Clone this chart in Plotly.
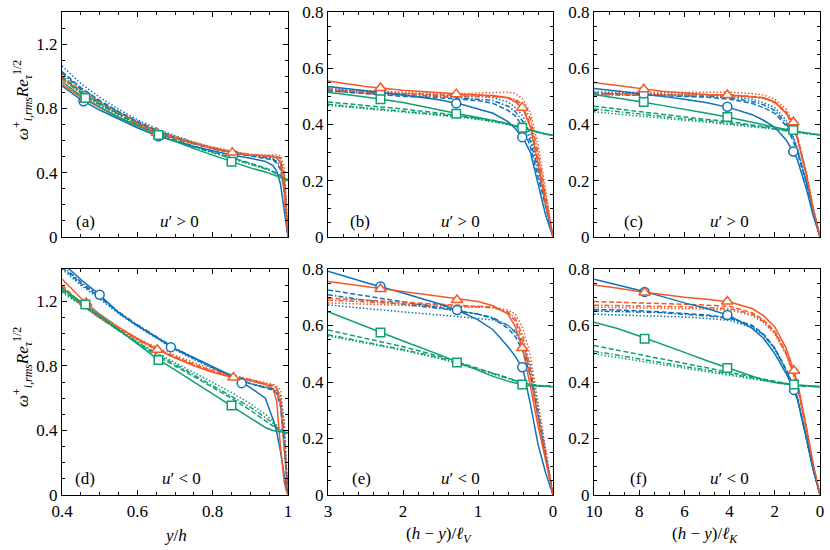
import plotly.graph_objects as go

BLUE = "#0C72BA"
ORANGE = "#F05A28"
GREEN = "#0E9F73"

# ---------------- x grids ----------------
XA = [0.4, 0.45, 0.5, 0.55, 0.6, 0.65, 0.7, 0.75, 0.8, 0.85, 0.9, 0.94, 0.96, 0.97, 0.98, 0.99, 0.995, 1.0]
XB = [3, 2.5, 2, 1.5, 1.2, 1.0, 0.8, 0.6, 0.5, 0.4, 0.3, 0.2, 0.1, 0]
XC = [10, 9, 8, 7, 6, 5, 4, 3, 2.5, 2, 1.5, 1.2, 1.0, 0.6, 0.3, 0]

# each list: [solid, dashed, dashdot, dotted]
# ---------------- panel (a) ----------------
A_BLUE = [
    [0.94, 0.855, 0.79, 0.735, 0.68, 0.632, 0.595, 0.563, 0.535, 0.51, 0.49, 0.47, 0.445, 0.41, 0.33, 0.17, 0.08, 0.0],
    [1.03, 0.93, 0.85, 0.78, 0.72, 0.665, 0.62, 0.58, 0.55, 0.525, 0.505, 0.49, 0.48, 0.46, 0.42, 0.28, 0.14, 0.0],
    [1.02, 0.92, 0.84, 0.775, 0.715, 0.66, 0.615, 0.58, 0.55, 0.525, 0.505, 0.495, 0.485, 0.47, 0.44, 0.32, 0.17, 0.0],
    [1.065, 0.955, 0.87, 0.795, 0.73, 0.675, 0.63, 0.59, 0.555, 0.53, 0.51, 0.50, 0.495, 0.49, 0.47, 0.38, 0.22, 0.0],
]
A_ORANGE = [
    [0.95, 0.87, 0.805, 0.745, 0.695, 0.65, 0.612, 0.58, 0.55, 0.525, 0.51, 0.505, 0.50, 0.495, 0.46, 0.28, 0.13, 0.0],
    [0.99, 0.905, 0.835, 0.77, 0.71, 0.66, 0.62, 0.585, 0.555, 0.53, 0.51, 0.505, 0.50, 0.50, 0.49, 0.36, 0.18, 0.0],
    [0.98, 0.895, 0.825, 0.765, 0.71, 0.66, 0.62, 0.585, 0.555, 0.53, 0.51, 0.505, 0.505, 0.50, 0.49, 0.38, 0.20, 0.0],
    [1.0, 0.915, 0.84, 0.775, 0.715, 0.665, 0.625, 0.59, 0.56, 0.535, 0.515, 0.51, 0.51, 0.51, 0.505, 0.44, 0.26, 0.0],
]
A_GREEN = [
    [0.965, 0.88, 0.81, 0.745, 0.69, 0.64, 0.595, 0.55, 0.51, 0.468, 0.43, 0.405, 0.39, 0.38, 0.37, 0.36, 0.355, 0.35],
    [1.0, 0.905, 0.83, 0.765, 0.705, 0.65, 0.605, 0.565, 0.53, 0.495, 0.46, 0.43, 0.41, 0.395, 0.38, 0.365, 0.36, 0.355],
    [0.99, 0.90, 0.825, 0.76, 0.70, 0.645, 0.60, 0.56, 0.525, 0.49, 0.455, 0.425, 0.405, 0.39, 0.375, 0.365, 0.36, 0.355],
    [0.985, 0.895, 0.82, 0.755, 0.695, 0.645, 0.60, 0.56, 0.525, 0.49, 0.455, 0.425, 0.405, 0.39, 0.375, 0.365, 0.36, 0.355],
]
A_MK_BLUE = ([0.457, 0.656, 0.855], [0.845, 0.626, 0.51])
A_MK_ORANGE = ([0.462, 0.652, 0.852], [0.855, 0.648, 0.525])
A_MK_GREEN = ([0.462, 0.656, 0.85], [0.865, 0.635, 0.468])

# ---------------- panel (b) ----------------
B_BLUE = [
    [0.535, 0.52, 0.505, 0.487, 0.47, 0.455, 0.44, 0.41, 0.385, 0.352, 0.30, 0.19, 0.08, 0.0],
    [0.52, 0.51, 0.50, 0.495, 0.49, 0.485, 0.475, 0.45, 0.43, 0.39, 0.32, 0.22, 0.11, 0.0],
    [0.525, 0.515, 0.505, 0.50, 0.495, 0.49, 0.485, 0.465, 0.445, 0.41, 0.34, 0.24, 0.12, 0.0],
    [0.53, 0.52, 0.51, 0.505, 0.50, 0.50, 0.495, 0.48, 0.46, 0.43, 0.36, 0.25, 0.13, 0.0],
]
B_ORANGE = [
    [0.555, 0.535, 0.522, 0.512, 0.508, 0.505, 0.503, 0.495, 0.48, 0.455, 0.39, 0.26, 0.12, 0.0],
    [0.525, 0.515, 0.51, 0.505, 0.505, 0.505, 0.50, 0.495, 0.485, 0.46, 0.40, 0.28, 0.14, 0.0],
    [0.52, 0.51, 0.505, 0.50, 0.50, 0.50, 0.50, 0.495, 0.49, 0.47, 0.42, 0.30, 0.15, 0.0],
    [0.53, 0.52, 0.515, 0.51, 0.51, 0.512, 0.515, 0.515, 0.51, 0.49, 0.44, 0.33, 0.17, 0.0],
]
B_GREEN = [
    [0.515, 0.498, 0.478, 0.45, 0.435, 0.425, 0.415, 0.403, 0.395, 0.388, 0.38, 0.372, 0.366, 0.362],
    [0.48, 0.468, 0.455, 0.44, 0.43, 0.423, 0.415, 0.403, 0.395, 0.388, 0.38, 0.372, 0.366, 0.362],
    [0.472, 0.46, 0.448, 0.435, 0.427, 0.42, 0.412, 0.401, 0.394, 0.387, 0.38, 0.372, 0.366, 0.362],
    [0.468, 0.456, 0.445, 0.433, 0.425, 0.418, 0.41, 0.40, 0.393, 0.387, 0.38, 0.372, 0.366, 0.362],
]
B_MK_BLUE = ([2.3, 1.29, 0.41], [0.51, 0.475, 0.355])
B_MK_ORANGE = ([2.3, 1.29, 0.41], [0.53, 0.508, 0.46])
B_MK_GREEN = ([2.3, 1.29, 0.41], [0.49, 0.438, 0.388])

# ---------------- panel (c) ----------------
C_BLUE = [
    [0.528, 0.52, 0.51, 0.50, 0.49, 0.477, 0.46, 0.435, 0.415, 0.39, 0.345, 0.305, 0.275, 0.17, 0.075, 0.0],
    [0.51, 0.508, 0.505, 0.502, 0.50, 0.497, 0.49, 0.475, 0.46, 0.44, 0.395, 0.345, 0.30, 0.19, 0.09, 0.0],
    [0.512, 0.51, 0.508, 0.506, 0.504, 0.50, 0.495, 0.482, 0.47, 0.45, 0.405, 0.355, 0.31, 0.195, 0.09, 0.0],
    [0.515, 0.513, 0.512, 0.51, 0.508, 0.505, 0.50, 0.49, 0.478, 0.46, 0.415, 0.36, 0.315, 0.20, 0.09, 0.0],
]
C_ORANGE = [
    [0.549, 0.538, 0.527, 0.518, 0.512, 0.507, 0.505, 0.50, 0.495, 0.48, 0.44, 0.405, 0.35, 0.22, 0.10, 0.0],
    [0.51, 0.508, 0.506, 0.505, 0.505, 0.505, 0.505, 0.50, 0.495, 0.48, 0.445, 0.40, 0.355, 0.225, 0.10, 0.0],
    [0.505, 0.504, 0.503, 0.503, 0.503, 0.503, 0.503, 0.498, 0.493, 0.478, 0.44, 0.395, 0.35, 0.22, 0.10, 0.0],
    [0.515, 0.515, 0.515, 0.515, 0.515, 0.515, 0.515, 0.51, 0.505, 0.49, 0.455, 0.41, 0.36, 0.23, 0.105, 0.0],
]
C_GREEN = [
    [0.507, 0.495, 0.482, 0.468, 0.455, 0.44, 0.425, 0.407, 0.398, 0.39, 0.382, 0.378, 0.375, 0.37, 0.366, 0.364],
    [0.465, 0.455, 0.445, 0.435, 0.427, 0.418, 0.41, 0.398, 0.393, 0.388, 0.38, 0.376, 0.373, 0.369, 0.366, 0.364],
    [0.455, 0.446, 0.437, 0.428, 0.42, 0.413, 0.405, 0.395, 0.39, 0.385, 0.378, 0.374, 0.372, 0.368, 0.365, 0.363],
    [0.445, 0.437, 0.43, 0.422, 0.415, 0.408, 0.40, 0.392, 0.388, 0.383, 0.377, 0.373, 0.371, 0.367, 0.365, 0.363],
]
C_MK_BLUE = ([7.8, 4.1, 1.18], [0.508, 0.463, 0.304])
C_MK_ORANGE = ([7.8, 4.1, 1.18], [0.525, 0.505, 0.408])
C_MK_GREEN = ([7.8, 4.1, 1.18], [0.48, 0.427, 0.38])

# ---------------- panel (d) ----------------
D_BLUE = [
    [1.44, 1.335, 1.24, 1.13, 1.05, 0.975, 0.905, 0.85, 0.795, 0.74, 0.665, 0.60, 0.47, 0.39, 0.27, 0.12, 0.05, 0.0],
    [1.41, 1.31, 1.225, 1.13, 1.05, 0.975, 0.905, 0.845, 0.79, 0.735, 0.69, 0.665, 0.65, 0.63, 0.55, 0.30, 0.15, 0.0],
    [1.42, 1.32, 1.23, 1.135, 1.055, 0.98, 0.91, 0.85, 0.79, 0.735, 0.69, 0.665, 0.655, 0.64, 0.58, 0.36, 0.18, 0.0],
    [1.40, 1.30, 1.215, 1.125, 1.045, 0.97, 0.90, 0.84, 0.785, 0.73, 0.69, 0.67, 0.66, 0.65, 0.62, 0.45, 0.25, 0.0],
]
D_ORANGE = [
    [1.338, 1.22, 1.12, 1.04, 0.97, 0.905, 0.85, 0.80, 0.76, 0.73, 0.71, 0.685, 0.66, 0.58, 0.30, 0.08, 0.03, 0.0],
    [1.30, 1.19, 1.10, 1.03, 0.965, 0.905, 0.855, 0.81, 0.77, 0.74, 0.71, 0.69, 0.68, 0.66, 0.56, 0.30, 0.14, 0.0],
    [1.29, 1.185, 1.095, 1.025, 0.96, 0.90, 0.85, 0.805, 0.765, 0.735, 0.705, 0.685, 0.675, 0.665, 0.60, 0.35, 0.16, 0.0],
    [1.28, 1.18, 1.10, 1.03, 0.97, 0.915, 0.865, 0.82, 0.78, 0.745, 0.715, 0.695, 0.685, 0.675, 0.65, 0.45, 0.22, 0.0],
]
D_GREEN = [
    [1.282, 1.20, 1.113, 1.025, 0.936, 0.848, 0.775, 0.70, 0.627, 0.554, 0.475, 0.418, 0.40, 0.395, 0.39, 0.385, 0.385, 0.385],
    [1.27, 1.185, 1.10, 1.02, 0.94, 0.865, 0.80, 0.735, 0.665, 0.60, 0.525, 0.46, 0.43, 0.41, 0.395, 0.385, 0.385, 0.385],
    [1.265, 1.18, 1.10, 1.02, 0.945, 0.875, 0.81, 0.745, 0.68, 0.615, 0.545, 0.48, 0.445, 0.42, 0.40, 0.39, 0.385, 0.385],
    [1.255, 1.175, 1.095, 1.02, 0.95, 0.88, 0.82, 0.76, 0.70, 0.635, 0.565, 0.50, 0.46, 0.43, 0.405, 0.39, 0.385, 0.385],
]
D_MK_BLUE = ([0.5, 0.689, 0.877], [1.24, 0.916, 0.693])
D_MK_ORANGE = ([0.464, 0.653, 0.855], [1.19, 0.90, 0.728])
D_MK_GREEN = ([0.462, 0.656, 0.85], [1.18, 0.837, 0.554])

# ---------------- panel (e) ----------------
E_BLUE = [
    [0.792, 0.752, 0.715, 0.675, 0.645, 0.62, 0.585, 0.525, 0.49, 0.445, 0.32, 0.18, 0.08, 0.0],
    [0.726, 0.705, 0.685, 0.665, 0.65, 0.64, 0.625, 0.59, 0.56, 0.51, 0.42, 0.28, 0.14, 0.0],
    [0.709, 0.69, 0.675, 0.66, 0.648, 0.64, 0.628, 0.60, 0.575, 0.53, 0.44, 0.30, 0.15, 0.0],
    [0.673, 0.66, 0.648, 0.637, 0.63, 0.625, 0.62, 0.60, 0.58, 0.54, 0.46, 0.32, 0.16, 0.0],
]
E_ORANGE = [
    [0.756, 0.738, 0.72, 0.703, 0.692, 0.685, 0.67, 0.64, 0.595, 0.51, 0.383, 0.245, 0.125, 0.0],
    [0.697, 0.69, 0.683, 0.677, 0.673, 0.67, 0.665, 0.645, 0.615, 0.54, 0.42, 0.27, 0.13, 0.0],
    [0.69, 0.683, 0.677, 0.672, 0.668, 0.666, 0.663, 0.648, 0.625, 0.56, 0.44, 0.29, 0.14, 0.0],
    [0.68, 0.675, 0.67, 0.667, 0.665, 0.665, 0.665, 0.655, 0.64, 0.59, 0.49, 0.33, 0.17, 0.0],
]
E_GREEN = [
    [0.649, 0.596, 0.545, 0.495, 0.462, 0.44, 0.42, 0.403, 0.396, 0.39, 0.387, 0.385, 0.384, 0.383],
    [0.584, 0.555, 0.525, 0.49, 0.465, 0.45, 0.433, 0.415, 0.405, 0.398, 0.392, 0.388, 0.386, 0.385],
    [0.567, 0.542, 0.515, 0.485, 0.462, 0.447, 0.43, 0.413, 0.404, 0.397, 0.391, 0.387, 0.385, 0.384],
    [0.563, 0.538, 0.512, 0.482, 0.46, 0.445, 0.428, 0.412, 0.403, 0.396, 0.39, 0.387, 0.385, 0.384],
]
E_MK_BLUE = ([2.3, 1.28, 0.41], [0.738, 0.655, 0.452])
E_MK_ORANGE = ([2.3, 1.28, 0.41], [0.729, 0.69, 0.52])
E_MK_GREEN = ([2.3, 1.28, 0.41], [0.575, 0.469, 0.391])

# ---------------- panel (f) ----------------
F_BLUE = [
    [0.764, 0.745, 0.725, 0.703, 0.68, 0.66, 0.635, 0.59, 0.555, 0.50, 0.43, 0.38, 0.34, 0.20, 0.09, 0.0],
    [0.657, 0.655, 0.652, 0.648, 0.643, 0.637, 0.628, 0.60, 0.57, 0.52, 0.445, 0.39, 0.345, 0.205, 0.09, 0.0],
    [0.651, 0.65, 0.648, 0.645, 0.64, 0.634, 0.625, 0.598, 0.568, 0.518, 0.443, 0.388, 0.343, 0.204, 0.09, 0.0],
    [0.64, 0.638, 0.636, 0.634, 0.63, 0.625, 0.618, 0.593, 0.565, 0.515, 0.44, 0.386, 0.342, 0.203, 0.09, 0.0],
]
F_ORANGE = [
    [0.743, 0.733, 0.72, 0.71, 0.70, 0.693, 0.683, 0.66, 0.635, 0.595, 0.52, 0.45, 0.40, 0.24, 0.11, 0.0],
    [0.685, 0.683, 0.68, 0.678, 0.675, 0.672, 0.668, 0.645, 0.62, 0.58, 0.505, 0.44, 0.39, 0.235, 0.105, 0.0],
    [0.672, 0.671, 0.67, 0.668, 0.666, 0.663, 0.66, 0.64, 0.615, 0.575, 0.50, 0.435, 0.385, 0.23, 0.10, 0.0],
    [0.665, 0.664, 0.663, 0.662, 0.66, 0.658, 0.655, 0.635, 0.61, 0.57, 0.497, 0.432, 0.383, 0.23, 0.10, 0.0],
]
F_GREEN = [
    [0.612, 0.59, 0.563, 0.535, 0.505, 0.475, 0.447, 0.42, 0.407, 0.398, 0.392, 0.39, 0.389, 0.387, 0.385, 0.384],
    [0.529, 0.513, 0.497, 0.481, 0.466, 0.45, 0.435, 0.418, 0.41, 0.401, 0.394, 0.39, 0.388, 0.385, 0.384, 0.383],
    [0.509, 0.495, 0.482, 0.468, 0.455, 0.442, 0.428, 0.413, 0.406, 0.399, 0.392, 0.389, 0.387, 0.385, 0.384, 0.383],
    [0.50, 0.487, 0.474, 0.461, 0.448, 0.435, 0.422, 0.41, 0.403, 0.397, 0.391, 0.388, 0.386, 0.385, 0.384, 0.383],
]
F_MK_BLUE = ([7.76, 4.1, 1.15], [0.719, 0.637, 0.372])
F_MK_ORANGE = ([7.76, 4.1, 1.15], [0.717, 0.685, 0.44])
F_MK_GREEN = ([7.76, 4.1, 1.15], [0.553, 0.45, 0.391])

PANEL_LABELS = ["(a)", "(b)", "(c)", "(d)", "(e)", "(f)"]
COND_LABELS = ["<i>u</i>′ &gt; 0"] * 3 + ["<i>u</i>′ &lt; 0"] * 3
X_TITLES = ["<i>y</i>/<i>h</i>",
            "(<i>h</i> − <i>y</i>)/<i>ℓ</i><sub><i>V</i></sub>",
            "(<i>h</i> − <i>y</i>)/<i>ℓ</i><sub><i>K</i></sub>"]
Y_TITLE = "<i>ω</i><sup>+</sup><sub><i>i,rms</i></sub><i>Re</i><sub><i>τ</i></sub><sup>1/2</sup>"

# ---------------- figure ----------------
W, H = 830, 550
FONT = "'Liberation Serif', 'Times New Roman', 'DejaVu Serif', serif"
COLS = [(62, 288), (328, 553), (594, 820)]
ROWS = [(12, 237), (269, 495)]

panels = [
    (XA, A_BLUE, A_ORANGE, A_GREEN, A_MK_BLUE, A_MK_ORANGE, A_MK_GREEN),
    (XB, B_BLUE, B_ORANGE, B_GREEN, B_MK_BLUE, B_MK_ORANGE, B_MK_GREEN),
    (XC, C_BLUE, C_ORANGE, C_GREEN, C_MK_BLUE, C_MK_ORANGE, C_MK_GREEN),
    (XA, D_BLUE, D_ORANGE, D_GREEN, D_MK_BLUE, D_MK_ORANGE, D_MK_GREEN),
    (XB, E_BLUE, E_ORANGE, E_GREEN, E_MK_BLUE, E_MK_ORANGE, E_MK_GREEN),
    (XC, F_BLUE, F_ORANGE, F_GREEN, F_MK_BLUE, F_MK_ORANGE, F_MK_GREEN),
]

DASHES = ["solid", "5px,2.5px", "5px,2px,1.5px,2px", "1.5px,2px"]
SYMBOLS = ["circle", "triangle-up", "square"]
MSIZE = [9, 10, 8.5]
COLORS = [BLUE, ORANGE, GREEN]

fig = go.Figure()
for i, (xg, cb, co, cg, mb, mo, mg) in enumerate(panels):
    xa, ya = f"x{i+1}", f"y{i+1}"
    groups = [cb, co, cg]
    for order in [3, 2, 1, 0]:
        for ci, grp in enumerate(groups):
            fig.add_trace(go.Scatter(
                x=xg, y=grp[order], mode="lines", xaxis=xa, yaxis=ya,
                line=dict(color=COLORS[ci], width=1.5, dash=DASHES[order]),
                showlegend=False, hoverinfo="skip"))
    for ci, mk in enumerate([mb, mo, mg]):
        fig.add_trace(go.Scatter(
            x=mk[0], y=mk[1], mode="markers", xaxis=xa, yaxis=ya,
            marker=dict(symbol=SYMBOLS[ci], size=MSIZE[ci], color="white",
                        line=dict(color=COLORS[ci], width=1.5)),
            showlegend=False, hoverinfo="skip"))

layout = dict(width=W, height=H, margin=dict(l=0, r=0, t=0, b=0),
              paper_bgcolor="white", plot_bgcolor="white", showlegend=False,
              font=dict(family=FONT, size=17, color="black"))

xspecs = [
    dict(range=[0.4, 1.0], tick0=0.4, dtick=0.2, minor_dtick=0.05),
    dict(range=[3, 0], tick0=0, dtick=1, minor_dtick=0.2),
    dict(range=[10, 0], tick0=0, dtick=2, minor_dtick=2 / 3),
]
yspecs = [
    dict(range=[0, 1.4], dtick=0.4, minor_dtick=0.1),
    dict(range=[0, 0.8], dtick=0.2, minor_dtick=0.05),
    dict(range=[0, 0.8], dtick=0.2, minor_dtick=0.05),
]

def axbase():
    return dict(showline=True, linecolor="black", linewidth=1.3, mirror="ticks",
                ticks="inside", ticklen=5, tickwidth=1, tickcolor="black",
                showgrid=False, zeroline=False, automargin=False, fixedrange=True,
                tickfont=dict(family=FONT, size=17, color="black"))

annotations = []
for i in range(6):
    r, c = divmod(i, 3)
    x0, x1 = COLS[c]
    y0, y1 = ROWS[r]
    xs, ys = xspecs[c], yspecs[c]
    xax = axbase()
    xax.update(domain=[x0 / W, x1 / W], anchor=f"y{i+1}", range=xs["range"],
               tick0=xs["tick0"], dtick=xs["dtick"], showticklabels=(r == 1),
               minor=dict(ticks="inside", ticklen=3, tickwidth=1, tickcolor="black",
                          dtick=xs["minor_dtick"], tick0=xs["tick0"], showgrid=False))
    yax = axbase()
    yax.update(domain=[1 - y1 / H, 1 - y0 / H], anchor=f"x{i+1}", range=ys["range"],
               tick0=0, dtick=ys["dtick"],
               minor=dict(ticks="inside", ticklen=3, tickwidth=1, tickcolor="black",
                          dtick=ys["minor_dtick"], tick0=0, showgrid=False))
    key = "" if i == 0 else str(i + 1)
    layout["xaxis" + key] = xax
    layout["yaxis" + key] = yax

LABEL_POS = [(0.106, 0.52, 0.07), (0.142, 0.587, 0.07), (0.173, 0.60, 0.07),
             (0.10, 0.53, 0.075), (0.15, 0.587, 0.075), (0.195, 0.60, 0.075)]
for i in range(6):
    lx, ux, ly = LABEL_POS[i]
    key = "" if i == 0 else str(i + 1)
    annotations.append(dict(text=PANEL_LABELS[i], xref=f"x{key} domain", yref=f"y{key} domain",
                            x=lx, y=ly, showarrow=False, xanchor="center", yanchor="middle",
                            font=dict(family=FONT, size=17)))
    annotations.append(dict(text=COND_LABELS[i], xref=f"x{key} domain", yref=f"y{key} domain",
                            x=ux, y=ly, showarrow=False, xanchor="center", yanchor="middle",
                            font=dict(family=FONT, size=17)))

for c, (cx, title) in enumerate(zip([175, 439, 705], X_TITLES)):
    annotations.append(dict(text=title, xref="paper", yref="paper", x=cx / W, y=1 - 535 / H,
                            showarrow=False, xanchor="center", yanchor="middle",
                            font=dict(family=FONT, size=17)))
for cy in [100, 367]:
    annotations.append(dict(text=Y_TITLE, xref="paper", yref="paper", x=22 / W, y=1 - cy / H,
                            showarrow=False, xanchor="center", yanchor="middle", textangle=-90,
                            font=dict(family=FONT, size=17)))

layout["annotations"] = annotations
fig.update_layout(**layout)
fig.write_html("out.html", config={"displayModeBar": False},
               post_script="document.body.style.margin='0';document.body.style.overflow='hidden';")
